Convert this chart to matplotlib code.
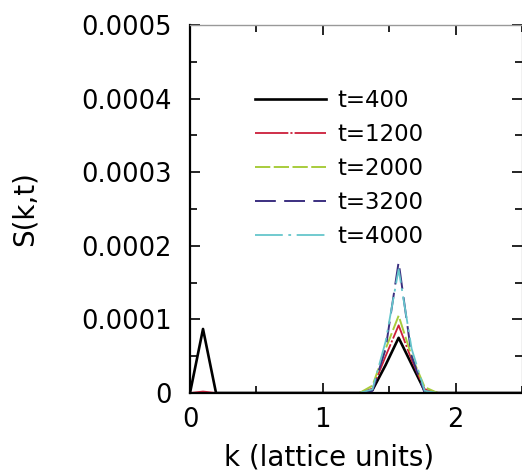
import matplotlib
matplotlib.use("Agg")
import matplotlib.pyplot as plt
from matplotlib.ticker import MultipleLocator, FuncFormatter

# =============================
# Data
# =============================

k = [0.0, 0.098, 0.196, 1.276, 1.374, 1.473, 1.571, 1.669, 1.767, 1.865, 2.7]

s_400 = [0.0, 8.7e-5, 0.0, 0.0, 4e-6, 3.8e-5, 7.5e-5, 3.9e-5, 3e-6, 0.0, 0.0]
s_1200 = [0.0, 2e-6, 0.0, 0.0, 6e-6, 5e-5, 9.2e-5, 4.5e-5, 5e-6, 0.0, 0.0]
s_2000 = [0.0, 0.0, 0.0, 0.0, 1e-5, 6e-5, 1.05e-4, 5e-5, 8e-6, 0.0, 0.0]
s_3200 = [0.0, 0.0, 0.0, 0.0, 3e-6, 6e-5, 1.78e-4, 5e-5, 0.0, 0.0, 0.0]
s_4000 = [0.0, 0.0, 0.0, 0.0, 5e-6, 7e-5, 1.68e-4, 6e-5, 3e-6, 0.0, 0.0]

labels = ["t=400", "t=1200", "t=2000", "t=3200", "t=4000"]

# =============================
# Figure
# =============================

plt.rcParams["lines.scale_dashes"] = False
plt.rcParams["font.family"] = "DejaVu Sans"

fig = plt.figure(figsize=(5.22, 4.74), dpi=100)
ax = fig.add_axes([190 / 522, 81 / 474, 332 / 522, 368 / 474])

ax.plot(k, s_400, color="black", lw=1.9, label=labels[0])
ax.plot(k, s_1200, color="#cc1f3a", lw=1.3, ls=(0, (24, 1.5, 1.5, 1.5)), label=labels[1])
ax.plot(k, s_2000, color="#a8cc3c", lw=1.4, ls=(0, (11, 2.5)), label=labels[2])
ax.plot(k, s_3200, color="#3b2f80", lw=1.4, ls=(0, (15, 6)), label=labels[3])
ax.plot(k, s_4000, color="#66c6cc", lw=1.3, ls=(0, (20, 4, 2, 4)), label=labels[4])

ax.set_xlim(0, 2.5)
ax.set_ylim(0, 0.0005)

ax.xaxis.set_major_locator(MultipleLocator(1))
ax.xaxis.set_minor_locator(MultipleLocator(0.5))
ax.yaxis.set_major_locator(MultipleLocator(0.0001))
ax.yaxis.set_minor_locator(MultipleLocator(0.00005))
ax.yaxis.set_major_formatter(FuncFormatter(lambda v, p: "0" if v == 0 else "%.4f" % v))
ax.xaxis.set_major_formatter(FuncFormatter(lambda v, p: "%d" % round(v)))

ax.tick_params(which="both", direction="in", top=True, right=True, labelsize=18.5)
ax.tick_params(which="major", length=7, width=1.2)
ax.tick_params(which="minor", length=5, width=1.2)
ax.tick_params(axis="y", pad=13)
ax.tick_params(axis="x", pad=10)

for side in ["left", "bottom"]:
    ax.spines[side].set_linewidth(1.6)
ax.spines["top"].set_color("#999999")
ax.spines["top"].set_linewidth(1.0)

ax.set_xlabel("k (lattice units)", fontsize=20)
ax.xaxis.set_label_coords(0.42, -0.137)
ax.set_ylabel("S(k,t)", fontsize=20)
ax.yaxis.set_label_coords(-0.455, 0.5)

ax.legend(loc="upper left", bbox_to_anchor=(0.196, 0.826), frameon=False,
          fontsize=16.5, handlelength=3.1, handletextpad=0.5,
          labelspacing=0.48, borderpad=0, borderaxespad=0)

fig.savefig("out.png", dpi=100)
